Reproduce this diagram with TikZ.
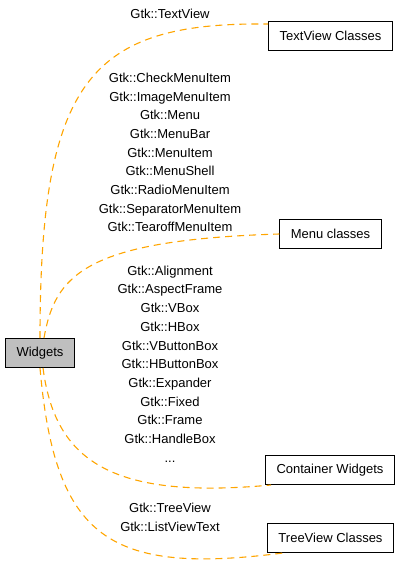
\documentclass[tikz,border=0pt]{standalone}
\usepackage{fontspec}
\setmainfont{Liberation Sans}
\usetikzlibrary{positioning}
\definecolor{naranja}{HTML}{FFA500}
\definecolor{grismod}{HTML}{BFBFBF}
\tikzset{
  modulo/.style={rectangle, draw=black, fill=white, line width=1pt, inner xsep=11pt,
                 minimum height=29pt, font=\fontsize{13}{15}\selectfont},
  moduloact/.style={modulo, fill=grismod},
  etiq/.style={align=center, font=\fontsize{13}{18.7}\selectfont, inner sep=0pt},
  arista/.style={draw=naranja, line width=1.1pt, dash pattern=on 7pt off 5pt}
}
\begin{document}
\begin{tikzpicture}[x=1pt, y=-1pt]
  \useasboundingbox (0,0) rectangle (400,570);
  \node (wid) [moduloact] at (40,353) {Widgets};
  \node (tv) [modulo] at (330.5,36) {TextView Classes};
  \node (mc) [modulo] at (330.5,234) {Menu classes};
  \node (cw) [modulo] at (330,470) {Container Widgets};
  \node (tr) [modulo] at (330.5,538) {TreeView Classes};
  \node (ltv) [etiq] at (170,14) {Gtk::TextView};
  \node (lmc) [etiq] at (170,152.5) {Gtk::CheckMenuItem\\ Gtk::ImageMenuItem\\ Gtk::Menu\\ Gtk::MenuBar\\ Gtk::MenuItem\\ Gtk::MenuShell\\ Gtk::RadioMenuItem\\ Gtk::SeparatorMenuItem\\ Gtk::TearoffMenuItem};
  \node (lcw) [etiq] at (170,364) {Gtk::Alignment\\ Gtk::AspectFrame\\ Gtk::VBox\\ Gtk::HBox\\ Gtk::VButtonBox\\ Gtk::HButtonBox\\ Gtk::Expander\\ Gtk::Fixed\\ Gtk::Frame\\ Gtk::HandleBox\\ ...};
  \node (ltr) [etiq] at (170,517.5) {Gtk::TreeView\\ Gtk::ListViewText};
  \draw [arista] (wid.north) .. controls (40,80) and (90,22) .. ([yshift=-3pt]tv.north west);
  \draw [arista] ([xshift=4pt]wid.north) .. controls (55,275) and (85,240) .. (mc.west);
  \draw [arista] ([xshift=3pt]wid.south) .. controls (55,460) and (110,500) .. ([xshift=6pt]cw.south west);
  \draw [arista] (wid.south) .. controls (55,540) and (110,575) .. ([xshift=16pt]tr.south west);
\end{tikzpicture}
\end{document}
